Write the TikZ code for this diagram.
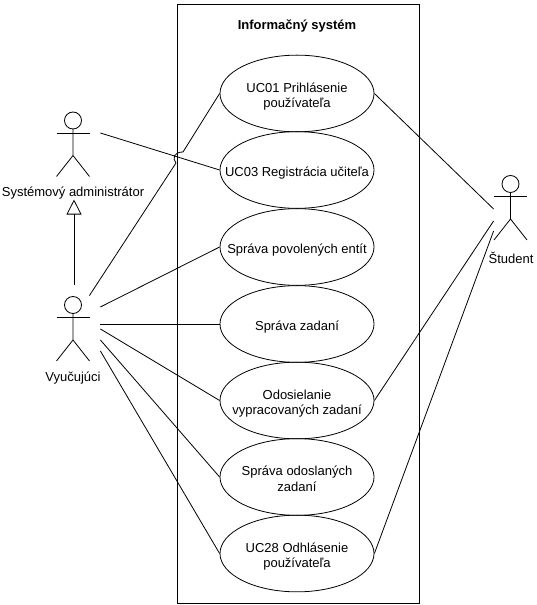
\documentclass[tikz,border=0pt]{standalone}
\usepackage{fontspec}
\setmainfont{Liberation Sans}
\usetikzlibrary{arrows.meta, shapes.geometric}
% a label that leaves the size of its ellipse alone
\newcommand{\uctext}[1]{\raisebox{-6.5pt}[0pt][0pt]{\makebox[0pt]{\begin{tabular}{@{}c@{}}#1\end{tabular}}}}
\tikzset{
  % a use case
  uc/.style    = {draw, ellipse, inner sep=0pt, font=\fontsize{13}{15.5}\selectfont,
                  minimum width=154pt, minimum height=76.7pt},
  % the invisible box round a stick figure
  act/.style   = {inner sep=0pt, minimum width=54pt, minimum height=66pt},
  % an actor's name
  al/.style    = {font=\fontsize{13}{15.5}\selectfont, inner sep=0pt},
  % the stick figure itself
  stick/.pic   = {
    \draw (0,24) circle (8.5);
    \draw (-16.5,11.5) -- (16.5,11.5);
    \draw (0,15.5) -- (0,-11) (-16.5,-32) -- (0,-11) -- (16.5,-32);
  },
  % an association
  as/.style    = {line width=0.8pt},
  % the generalisation
  gen/.style   = {-{Triangle[open,length=15pt,width=15pt]}, line width=0.8pt},
}
\begin{document}
\begin{tikzpicture}[x=1pt, y=1pt, line width=0.8pt]
  \useasboundingbox (0,0) rectangle (537,605);
  % --- the system boundary ---
  \node[draw, line width=0.8pt, minimum width=241.5pt, minimum height=599.5pt, inner sep=0pt] (sys) at (298.25,301.25) {};
  \node[font=\fontsize{13}{15.5}\selectfont\bfseries] (title) at (297,579) {Informačný systém};
  % --- use cases ---
  \node[uc] (uc01) at (297,511.5) {\uctext{UC01 Prihlásenie\\používateľa}};
  \node[uc] (uc03) at (297,435)   {\uctext{UC03 Registrácia učiteľa}};
  \node[uc] (ent)  at (297,358)   {\uctext{Správa povolených entít}};
  \node[uc] (zad)  at (297,281)   {\uctext{Správa zadaní}};
  \node[uc] (odo)  at (297,204.5) {\uctext{Odosielanie\\vypracovaných zadaní}};
  \node[uc] (oze)  at (297,128)   {\uctext{Správa odoslaných\\zadaní}};
  \node[uc] (uc28) at (297,51.5)  {\uctext{UC28 Odhlásenie\\používateľa}};
  % --- actors ---
  \node[act] (adm) at (73,460.5) {};
  \node[act] (vyu) at (73,276) {};
  \node[act, minimum width=33pt] (stu) at (510.5,397) {};
  \pic at (adm) {stick};
  \pic at (vyu) {stick};
  \pic at (stu) {stick};
  \node[al] (admn) at (73,412) {Systémový administrátor};
  \node[al] (vyun) at (73,227) {Vyučujúci};
  \node[al] (stun) at (511,347) {Študent};
  % --- generalisation ---
  \draw[gen] ([xshift=1pt,yshift=11pt]vyu.north) -- ([xshift=1pt]admn.south);
  % --- associations, the first one jumps over the line from the administrator ---
  \draw[as] ([yshift=11.5pt]adm.east) -- (uc03.west);
  \coordinate (ja) at (176,442);
  \coordinate (jb) at (183,453);
  \draw[as] ([xshift=-11pt]vyu.north east) -- (ja) .. controls (172,447) and (174,453) .. (jb) -- (uc01.west);
  \draw[as] ([yshift=22pt]vyu.east)  -- (ent.west);
  \draw[as] ([yshift=5pt]vyu.east)   -- (zad.west);
  \draw[as] (vyu.east)               -- (odo.west);
  \draw[as] ([yshift=-11pt]vyu.east) -- (oze.west);
  \draw[as] ([yshift=-22pt]vyu.east) -- (uc28.west);
  \draw[as] (uc01.east) -- ([yshift=-1pt]stu.west);
  \draw[as] (odo.east)  -- ([yshift=-13pt]stu.west);
  \draw[as] (uc28.east) -- ([yshift=-23pt]stu.west);
\end{tikzpicture}
\end{document}
